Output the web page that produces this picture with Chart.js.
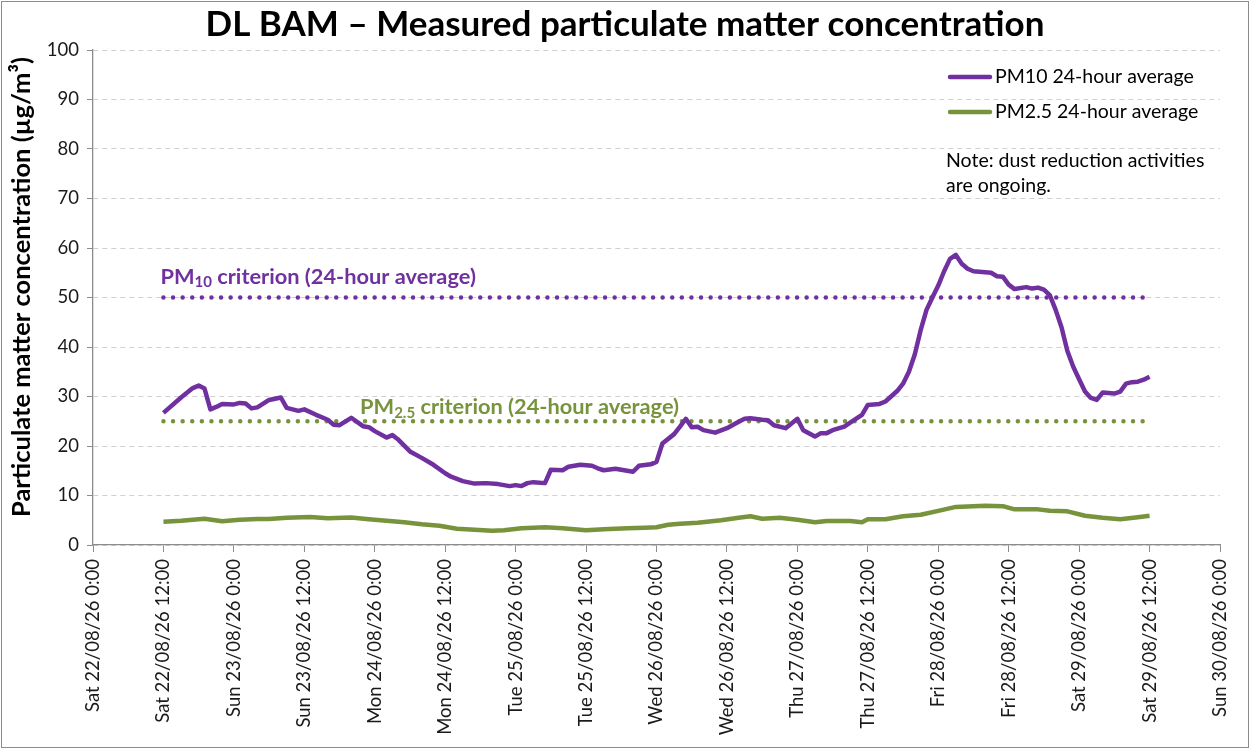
<!DOCTYPE html>
<html>
<head>
<meta charset="utf-8">
<title>DL BAM</title>
<script src="https://cdn.jsdelivr.net/npm/chart.js@4.4.1/dist/chart.umd.min.js"></script>
<style>
  html, body { margin: 0; padding: 0; background: #fff; }
  #wrap { width: 1250px; height: 749px; }
</style>
</head>
<body>
<div id="wrap"><canvas id="bamChart" width="1250" height="749"></canvas></div>
<script>
// Данные (часы от Sat 22/08/26 0:00)
const pm10Hours = [12, 15, 17, 18, 19, 20, 21, 22, 24, 25, 26, 27, 28, 30, 32, 33, 35, 36, 38, 40,
  41, 42, 44, 46, 47, 48, 50, 51, 52, 54, 56, 58, 60, 61, 63, 65, 67, 69, 71, 72,
  73, 74, 75, 77, 78, 80, 81, 83, 85, 86, 87, 89, 90, 92, 93, 95, 96, 97, 99, 100,
  101, 102, 103, 104, 106, 108, 110, 111, 112, 114, 115, 116, 118, 120, 121, 123, 124, 125, 126, 128,
  129, 131, 132, 134, 135, 137, 138, 139, 140, 141, 142, 143, 144, 145, 146, 147, 148, 149, 150, 151,
  153, 154, 155, 156, 157, 159, 160, 161, 162, 163, 164, 165, 166, 167, 168, 169, 170, 171, 172, 174,
  175, 176, 177, 178, 179, 180];
const pm10Values = [26.7, 29.8, 31.7, 32.2, 31.6, 27.4, 27.9, 28.5, 28.4, 28.7, 28.6, 27.6, 27.8, 29.3, 29.8, 27.7, 27.1, 27.4, 26.3, 25.3,
  24.3, 24.2, 25.7, 24.0, 23.8, 23.0, 21.7, 22.2, 21.3, 18.9, 17.6, 16.2, 14.5, 13.8, 12.9, 12.4, 12.5, 12.3, 11.9, 12.1,
  11.9, 12.5, 12.7, 12.5, 15.2, 15.1, 15.8, 16.2, 16.0, 15.5, 15.1, 15.4, 15.2, 14.8, 16.0, 16.3, 16.8, 20.5, 22.4, 23.9,
  25.5, 23.8, 23.9, 23.2, 22.7, 23.6, 24.9, 25.5, 25.6, 25.3, 25.2, 24.2, 23.6, 25.5, 23.2, 21.9, 22.6, 22.6, 23.2, 23.9,
  24.7, 26.3, 28.3, 28.5, 29.0, 31.1, 32.6, 35.0, 38.5, 43.4, 47.5, 50.0, 52.4, 55.3, 57.8, 58.6, 56.8, 55.8, 55.3, 55.2,
  55.0, 54.3, 54.2, 52.6, 51.7, 52.1, 51.8, 52.0, 51.6, 50.5, 47.5, 44.0, 39.2, 36.0, 33.5, 31.0, 29.7, 29.3, 30.8, 30.6,
  31.0, 32.6, 32.9, 33.0, 33.4, 34.0];

const pm25Hours = [12, 15, 17, 19, 22, 25, 28, 30, 33, 37, 40, 44, 47, 50, 53, 56, 59, 62, 65, 68,
  70, 73, 77, 80, 84, 87, 91, 94, 96, 98, 100, 103, 107, 110, 112, 114, 117, 120, 123, 125,
  129, 131, 132, 135, 138, 141, 144, 147, 152, 155, 157, 161, 163, 166, 169, 172, 175, 178, 180];
const pm25Values = [4.7, 4.9, 5.1, 5.3, 4.8, 5.1, 5.25, 5.25, 5.5, 5.65, 5.4, 5.55, 5.2, 4.9, 4.6, 4.2, 3.9, 3.3, 3.1, 2.9,
  3.0, 3.4, 3.6, 3.4, 3.0, 3.2, 3.4, 3.5, 3.6, 4.1, 4.3, 4.5, 5.0, 5.5, 5.8, 5.3, 5.5, 5.1, 4.6, 4.85,
  4.85, 4.6, 5.2, 5.2, 5.8, 6.1, 6.9, 7.7, 7.95, 7.85, 7.2, 7.2, 6.9, 6.8, 5.9, 5.5, 5.2, 5.6, 5.9];

const criterionHours = [12, 180];
const pm10Criterion = 50;
const pm25Criterion = 25;

const xTickLabels = ['Sat 22/08/26 0:00', 'Sat 22/08/26 12:00', 'Sun 23/08/26 0:00', 'Sun 23/08/26 12:00',
  'Mon 24/08/26 0:00', 'Mon 24/08/26 12:00', 'Tue 25/08/26 0:00', 'Tue 25/08/26 12:00',
  'Wed 26/08/26 0:00', 'Wed 26/08/26 12:00', 'Thu 27/08/26 0:00', 'Thu 27/08/26 12:00',
  'Fri 28/08/26 0:00', 'Fri 28/08/26 12:00', 'Sat 29/08/26 0:00', 'Sat 29/08/26 12:00',
  'Sun 30/08/26 0:00'];

const PURPLE = '#7030A0';
const GREEN = '#77933C';
const FONT = 'Lato';

function toPoints(xs, ys) {
  return xs.map((h, i) => ({ x: h, y: ys[i] }));
}

// Подпись с нижним индексом
function drawSubLabel(ctx, base, sub, rest, x, y, color) {
  ctx.fillStyle = color;
  ctx.textAlign = 'left';
  ctx.textBaseline = 'middle';
  ctx.font = `bold 21.8px ${FONT}`;
  ctx.fillText(base, x, y);
  let cx = x + ctx.measureText(base).width;
  ctx.font = `bold 15px ${FONT}`;
  ctx.fillText(sub, cx, y + 6);
  cx += ctx.measureText(sub).width;
  ctx.font = `bold 21.8px ${FONT}`;
  ctx.fillText(rest, cx, y);
}

const decorPlugin = {
  id: 'decor',
  afterDraw(chart) {
    const ctx = chart.ctx;
    const xs = chart.scales.x;
    const ys = chart.scales.y;
    ctx.save();

    // рамка
    ctx.strokeStyle = '#8c8c8c';
    ctx.lineWidth = 1;
    ctx.strokeRect(1.5, 1.5, chart.width - 3, chart.height - 3);

    // заголовок
    ctx.fillStyle = '#000';
    ctx.font = `bold 35px ${FONT}`;
    ctx.textAlign = 'center';
    ctx.textBaseline = 'middle';
    ctx.fillText('DL BAM – Measured particulate matter concentration', 625, 25);

    // подпись оси Y
    ctx.save();
    ctx.translate(22, 287);
    ctx.rotate(-Math.PI / 2);
    ctx.font = `bold 25.5px ${FONT}`;
    ctx.fillText('Particulate matter concentration (µg/m³)', 0, 0);
    ctx.restore();

    // легенда
    const rows = [77, 112];
    [0, 1].forEach(i => {
      const ds = chart.data.datasets[i];
      ctx.strokeStyle = ds.borderColor;
      ctx.lineWidth = 4.5;
      ctx.lineCap = 'round';
      ctx.beginPath();
      ctx.moveTo(950, rows[i]);
      ctx.lineTo(990, rows[i]);
      ctx.stroke();
      ctx.fillStyle = '#000';
      ctx.font = `19.5px ${FONT}`;
      ctx.textAlign = 'left';
      ctx.textBaseline = 'middle';
      ctx.fillText(ds.label, 995, rows[i]);
    });

    // примечание
    ctx.fillText('Note: dust reduction activities', 946, 161);
    ctx.fillText('are ongoing.', 946, 186);

    // подписи критериев
    drawSubLabel(ctx, 'PM', '10', ' criterion (24-hour average)',
      xs.getPixelForValue(criterionHours[0]) - 3, ys.getPixelForValue(pm10Criterion) - 21, PURPLE);
    drawSubLabel(ctx, 'PM', '2.5', ' criterion (24-hour average)',
      xs.getPixelForValue(45.5), ys.getPixelForValue(pm25Criterion) - 14, GREEN);

    ctx.restore();
  }
};

function createBamChart() {
  const ctx = document.getElementById('bamChart').getContext('2d');
  new Chart(ctx, {
    type: 'line',
    data: {
      datasets: [
        {
          label: 'PM10 24-hour average',
          data: toPoints(pm10Hours, pm10Values),
          borderColor: PURPLE,
          borderWidth: 4.5,
          borderJoinStyle: 'round',
          pointRadius: 0,
          tension: 0
        },
        {
          label: 'PM2.5 24-hour average',
          data: toPoints(pm25Hours, pm25Values),
          borderColor: GREEN,
          borderWidth: 4.5,
          borderJoinStyle: 'round',
          pointRadius: 0,
          tension: 0
        },
        {
          label: 'PM10 criterion',
          data: criterionHours.map(h => ({ x: h, y: pm10Criterion })),
          borderColor: PURPLE,
          borderWidth: 4.5,
          borderDash: [0, 9.6],
          borderCapStyle: 'round',
          pointRadius: 0
        },
        {
          label: 'PM2.5 criterion',
          data: criterionHours.map(h => ({ x: h, y: pm25Criterion })),
          borderColor: GREEN,
          borderWidth: 4.5,
          borderDash: [0, 9.6],
          borderCapStyle: 'round',
          pointRadius: 0
        }
      ]
    },
    options: {
      responsive: false,
      animation: false,
      devicePixelRatio: 1,
      layout: { padding: { left: 0, right: 30, top: 50, bottom: 0 } },
      plugins: {
        legend: { display: false },
        title: { display: false },
        tooltip: { enabled: false }
      },
      scales: {
        x: {
          type: 'linear',
          min: 0,
          max: (xTickLabels.length - 1) * 12,
          afterFit: s => { s.height = 204; },
          afterBuildTicks: s => {
            s.ticks = xTickLabels.map((_, i) => ({ value: i * 12 }));
          },
          ticks: {
            autoSkip: false,
            minRotation: 90,
            maxRotation: 90,
            padding: 7,
            color: '#1a1a1a',
            font: { family: FONT, size: 18.5 },
            callback: v => xTickLabels[Math.round(v / 12)]
          },
          grid: {
            drawOnChartArea: false,
            drawTicks: true,
            tickLength: 7,
            tickColor: '#8c8c8c',
            tickWidth: 1
          },
          border: { color: '#8c8c8c', width: 1.3 }
        },
        y: {
          min: 0,
          max: 100,
          afterFit: s => { s.width = 93; },
          ticks: {
            stepSize: 10,
            padding: 8,
            color: '#1a1a1a',
            font: { family: FONT, size: 18.5 }
          },
          grid: {
            color: '#d0d0d0',
            lineWidth: 1,
            tickLength: 6,
            tickColor: '#8c8c8c',
            tickWidth: 1
          },
          border: { color: '#8c8c8c', width: 1.3, dash: [5, 4] }
        }
      }
    },
    plugins: [decorPlugin]
  });
}

document.addEventListener('DOMContentLoaded', function() {
  createBamChart();
});
</script>
</body>
</html>
